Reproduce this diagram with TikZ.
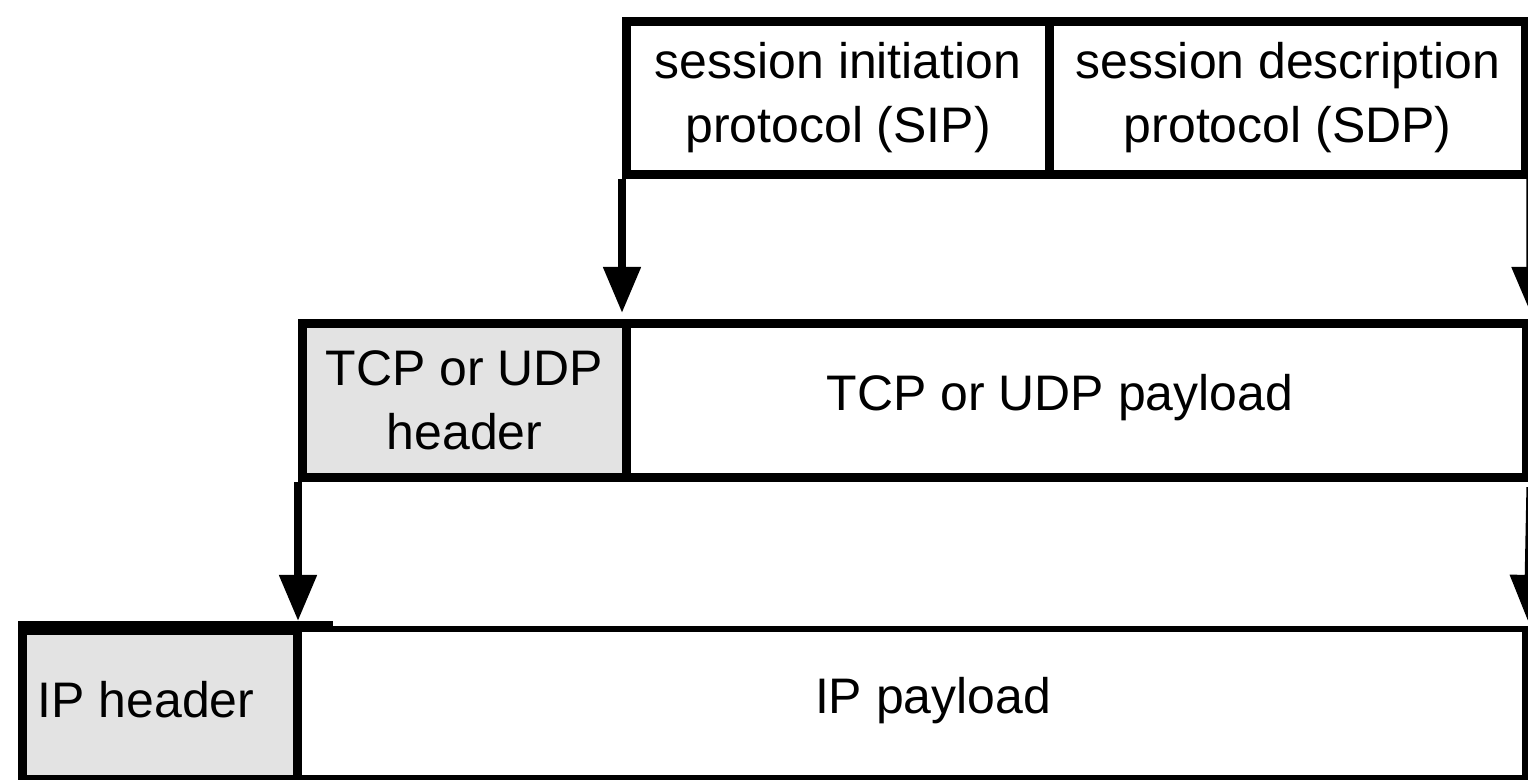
\documentclass[tikz,border=0pt]{standalone}
\usepackage{fontspec}
\setmainfont{Liberation Sans}
\usetikzlibrary{arrows.meta}
\definecolor{hdrgray}{RGB}{227,227,227}
\begin{document}
\begin{tikzpicture}[x=0.01cm,y=-0.01cm,
  txt/.style={font=\fontsize{14.2pt}{18.2pt}\selectfont, align=center},
  cell/.style={txt, draw, line width=0.09cm, inner sep=0pt, anchor=north west},
  hdrcell/.style={cell, fill=hdrgray},
  lbl/.style={txt, inner sep=0pt},
  flow/.style={line width=0.08cm, -{Triangle[width=0.36cm,length=0.46cm]}}]
\useasboundingbox (0,0) rectangle (1528,780);

% application layer: SIP carrying SDP
\node[cell, minimum width=4.23cm, minimum height=1.53cm] (sip) at (622,17)
  {session initiation\\protocol (SIP)};
\node[cell, minimum width=4.76cm, minimum height=1.53cm] (sdp) at (1045,17)
  {session description\\protocol (SDP)};

% transport layer
\node[hdrcell, minimum width=3.24cm, minimum height=1.54cm] (tcphdr) at (298,319)
  {TCP or UDP\\header};
\node[cell, minimum width=8.99cm, minimum height=1.54cm] (tcppay) at (622,319) {};
\node[lbl, anchor=base] (tcppaytext) at (1060,411) {TCP or UDP payload};

% network layer
\node[hdrcell, minimum width=2.75cm, minimum height=1.49cm] (iphdr) at (18,626) {};
\node[cell, line width=0.06cm, minimum width=12.28cm, minimum height=1.49cm] (ippay) at (293,626) {};
\draw[line width=0.1cm] (iphdr.north west) -- ++(315,0);
\node[lbl, anchor=base west] (iphdrtext) at (37,717) {IP header};
\node[lbl, anchor=base] (ippaytext) at (933,713) {IP payload};

% encapsulation arrows
\draw[flow, shorten >=0.06cm] (sip.south west) -- (sip.south west |- tcppay.north);
\draw[flow, shorten >=0.06cm] (sdp.south east) -- (tcppay.north east);
\draw[flow, shorten >=0.05cm] (tcphdr.south west) -- (tcphdr.south west |- iphdr.north);
\draw[flow, shorten <=0.05cm, shorten >=0.05cm] (tcppay.south east) -- (ippay.north east);
\end{tikzpicture}
\end{document}
